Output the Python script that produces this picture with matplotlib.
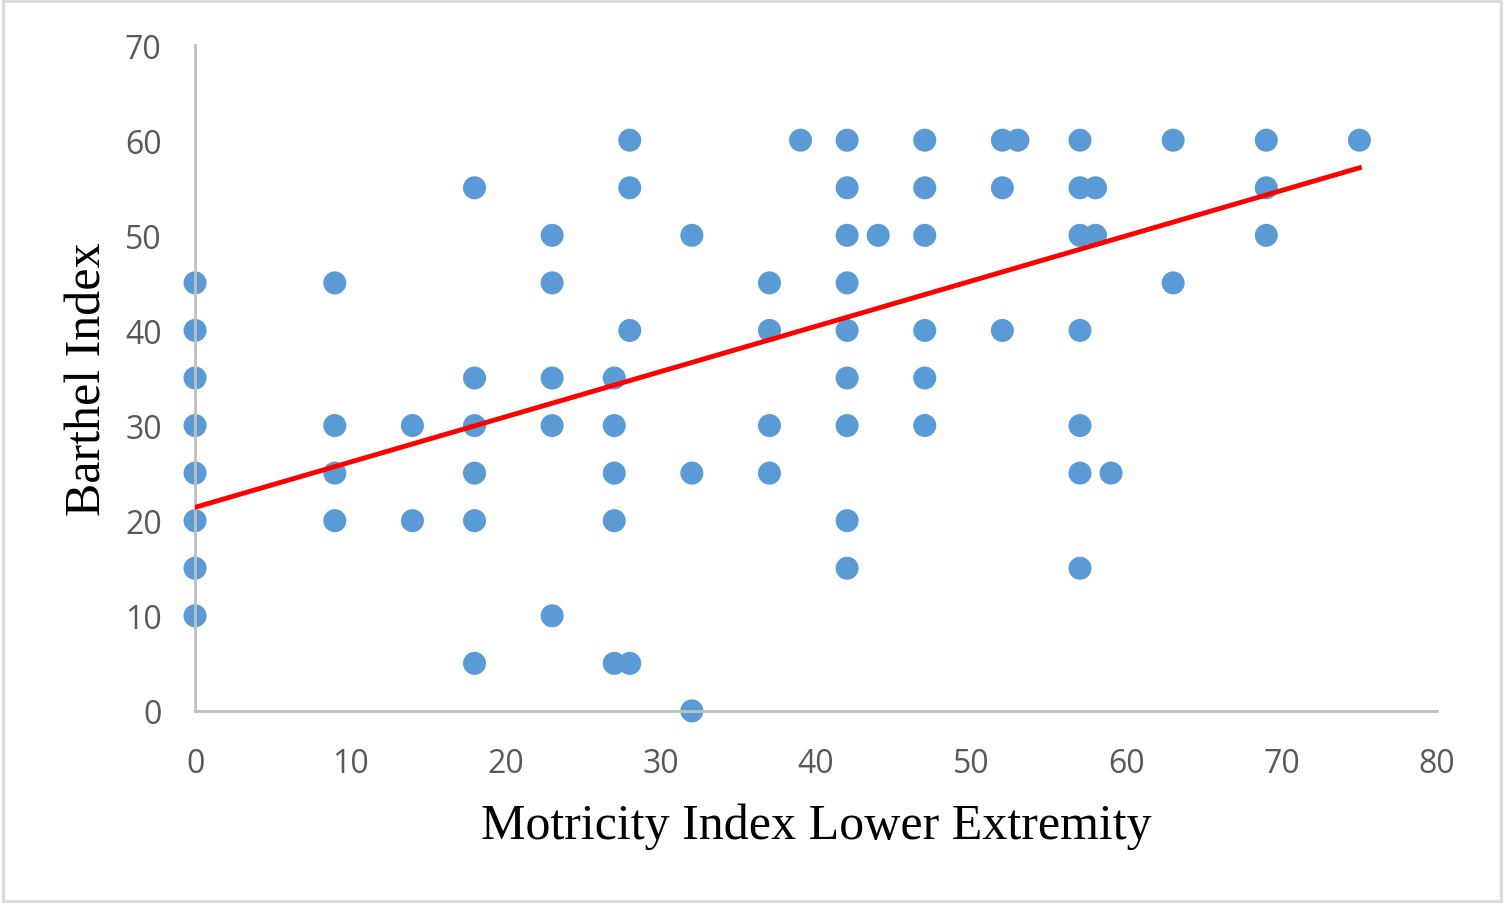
import numpy as np
import matplotlib.pyplot as plt

# Motricity Index Lower Extremity (x) vs Barthel Index (y)
motricity = [0, 0, 0, 0, 0, 0, 0, 0,
             9, 9, 9, 9,
             14, 14,
             18, 18, 18, 18, 18, 18,
             23, 23, 23, 23, 23,
             27, 27, 27, 27, 27,
             28, 28, 28, 28,
             32, 32, 32,
             37, 37, 37, 37,
             39,
             42, 42, 42, 42, 42, 42, 42, 42, 42,
             44,
             47, 47, 47, 47, 47, 47,
             52, 52, 52,
             53,
             57, 57, 57, 57, 57, 57, 57,
             58, 58,
             59,
             63, 63,
             69, 69, 69,
             75]
barthel = [45, 40, 35, 30, 25, 20, 15, 10,
           45, 30, 25, 20,
           30, 20,
           55, 35, 30, 25, 20, 5,
           50, 45, 35, 30, 10,
           35, 30, 25, 20, 5,
           60, 55, 40, 5,
           50, 25, 0,
           45, 40, 30, 25,
           60,
           60, 55, 50, 45, 40, 35, 30, 20, 15,
           50,
           60, 55, 50, 40, 35, 30,
           60, 55, 40,
           60,
           60, 55, 50, 40, 30, 25, 15,
           55, 50,
           25,
           60, 45,
           60, 55, 50,
           60]

# linear trend line
trend_intercept = 21.4
trend_slope = 0.476

x_ticks = [0, 10, 20, 30, 40, 50, 60, 70, 80]
y_ticks = [0, 10, 20, 30, 40, 50, 60, 70]

fig = plt.figure(figsize=(15.04, 9.04), dpi=100)
fig.patches.append(plt.Rectangle((0.002, 0.002), 0.996, 0.996, transform=fig.transFigure,
                                 fill=False, edgecolor='#d9d9d9', linewidth=2))
ax = fig.add_axes([0.1297, 0.2125, 0.8258, 0.7365])

ax.scatter(motricity, barthel, s=275, color='#5B9BD5', edgecolors='none', zorder=2, clip_on=False)

xs = np.array([0, max(motricity)])
ax.plot(xs, trend_intercept + trend_slope * xs, color='#ff0000', linewidth=3.5, zorder=3)

ax.set_xlim(0, 80)
ax.set_ylim(0, 70)
ax.set_xticks(x_ticks)
ax.set_yticks(y_ticks)
ax.tick_params(length=0, labelsize=23, labelcolor='#595959')
ax.tick_params(axis='x', pad=26)
ax.tick_params(axis='y', pad=24)
for lab in ax.get_xticklabels() + ax.get_yticklabels():
    lab.set_family('Open Sans')

for side in ['top', 'right']:
    ax.spines[side].set_visible(False)
for side in ['left', 'bottom']:
    ax.spines[side].set_color('#bfbfbf')
    ax.spines[side].set_linewidth(2)

ax.set_xlabel('Motricity Index Lower Extremity', family='Liberation Serif', fontsize=36, labelpad=16)
ax.set_ylabel('Barthel Index', family='Liberation Serif', fontsize=36, labelpad=10)

fig.savefig('out.png', dpi=100)
